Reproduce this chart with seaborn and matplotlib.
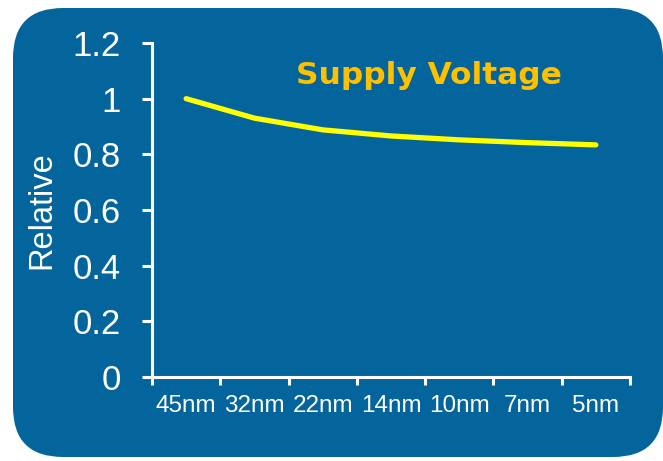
import pandas as pd
import matplotlib
matplotlib.use("Agg")
import matplotlib.pyplot as plt
from matplotlib.patches import FancyBboxPatch
import seaborn as sns

nodes = ["45nm", "32nm", "22nm", "14nm", "10nm", "7nm", "5nm"]
voltage = [1.0, 0.93, 0.888, 0.866, 0.852, 0.842, 0.834]
y_ticks = [0, 0.2, 0.4, 0.6, 0.8, 1.0, 1.2]
y_labels = ["0", "0.2", "0.4", "0.6", "0.8", "1", "1.2"]

df = pd.DataFrame({"node": nodes, "voltage": voltage, "pos": range(len(nodes))})

sns.set_style("white")
plt.rcParams["font.family"] = ["Liberation Sans", "DejaVu Sans"]

bg = "#03659b"
fig = plt.figure(figsize=(6.63, 4.61), dpi=100, facecolor="white")

# rounded blue panel behind everything
panel = FancyBboxPatch((0.13 + 0.5, 0.04 + 0.5), 6.5 - 1.0, 4.49 - 1.0,
                       boxstyle="round,pad=0.5", transform=fig.dpi_scale_trans,
                       facecolor=bg, edgecolor="none", zorder=-10)
fig.patches.append(panel)

ax = fig.add_axes([152 / 663, 84 / 461, 478 / 663, 334 / 461])
ax.set_facecolor("none")
ax.set_zorder(5)

sns.lineplot(data=df, x="pos", y="voltage", color="#ffff00", linewidth=3.8,
             ax=ax, solid_capstyle="round", solid_joinstyle="round")

ax.set_xlim(-0.5, len(nodes) - 0.5)
ax.set_ylim(0, 1.2)
ax.set_yticks(y_ticks)
ax.set_yticklabels(y_labels)
ax.set_xticks(range(len(nodes)))
ax.set_xticklabels(nodes)
ax.set_xticks([i - 0.5 for i in range(len(nodes) + 1)], minor=True)

for side in ["top", "right"]:
    ax.spines[side].set_visible(False)
for side in ["left", "bottom"]:
    ax.spines[side].set_color("white")
    ax.spines[side].set_linewidth(2.2)

ax.tick_params(axis="y", colors="white", labelsize=25, length=7.5, width=2.2,
               direction="out", pad=15, left=True)
ax.tick_params(axis="x", which="major", colors="white", labelsize=17.5, length=0, pad=13)
ax.tick_params(axis="x", which="minor", color="white", length=6, width=2.2,
               direction="out", bottom=True)

ax.set_xlabel("")
ax.set_ylabel("Relative", color="white", fontsize=23.5)
ax.yaxis.set_label_coords(-0.197, 0.5)

fig.text(429 / 663, 1 - 75 / 461, "Supply Voltage", color="#ffc000",
         fontsize=22.5, fontweight="bold", family="DejaVu Sans",
         ha="center", va="center")

fig.savefig("out.png", dpi=100, facecolor="white")
